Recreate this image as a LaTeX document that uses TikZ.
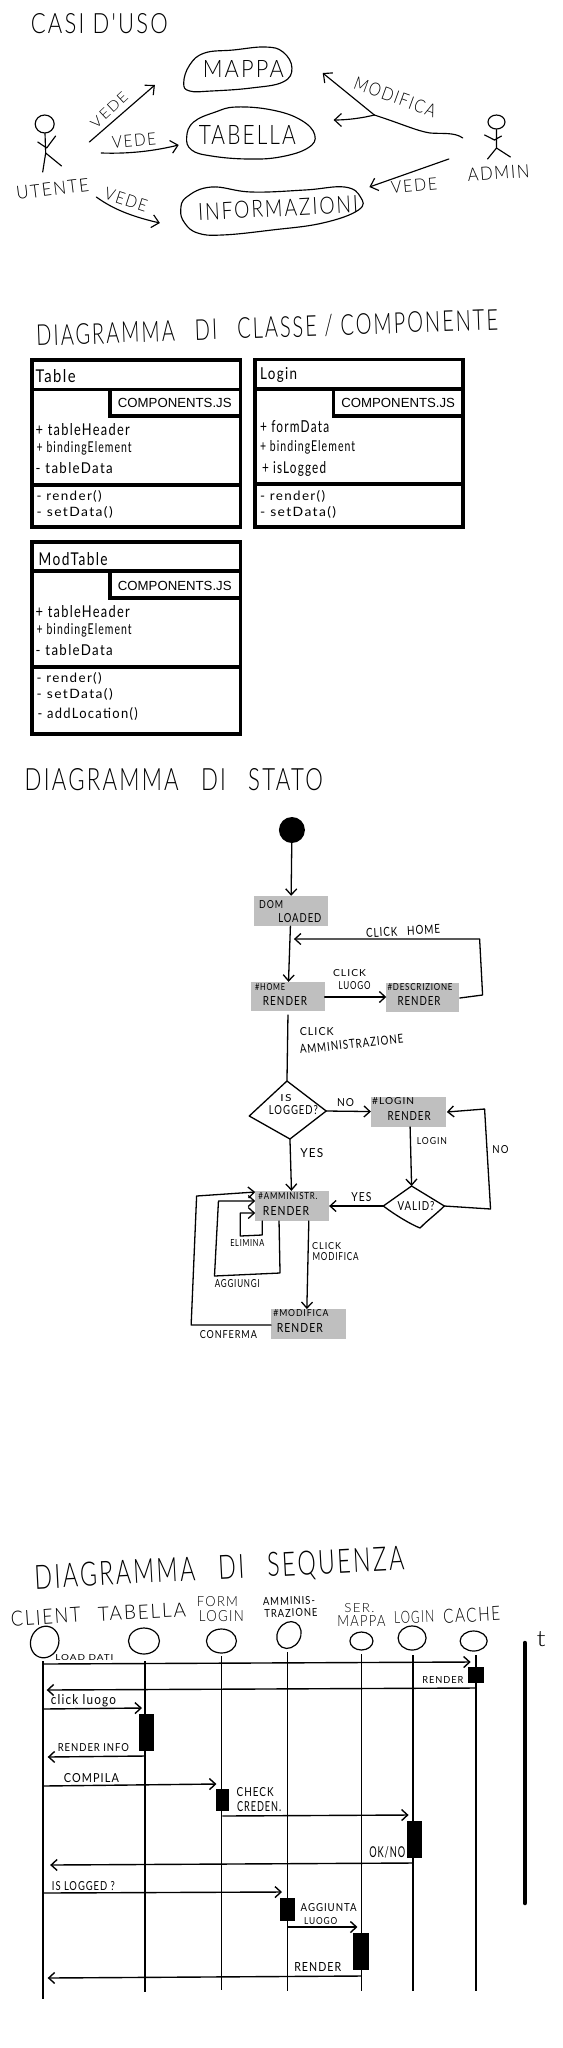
\documentclass[tikz,border=0pt]{standalone}
\usepackage{graphicx}
\usepackage{fontspec}
\setmainfont{Lato}
\newfontfamily\hand[LetterSpace=10]{Lato}
\newfontfamily\handl[LetterSpace=10]{Lato Light}
\newfontfamily\arial{Liberation Sans}
\usetikzlibrary{arrows.meta,shapes.geometric}
\newcommand{\hw}[3]{\resizebox{#1pt}{#2pt}{\hand #3}}
\newcommand{\hwl}[3]{\resizebox{#1pt}{#2pt}{\handl #3}}
\newcommand{\umlbox}[8]{%
  \draw[umlline] (#1,#2) rectangle (#3,#8);
  \draw[umlline] (#1,#4) -- (#3,#4);
  \draw[umlline] (#5,#4) -- (#5,#6) -- (#3,#6);
  \draw[umlline] (#1,#7) -- (#3,#7);
}
\tikzset{
  txt/.style={inner sep=0pt,outer sep=0pt},
  txl/.style={inner sep=0pt,outer sep=0pt,anchor=west},
  pen/.style={line width=1.15pt,line cap=round,line join=round},
  sarrow/.style={pen,-{Straight Barb[length=7pt,width=13pt,line width=1.15pt]}},
  umlline/.style={line width=3.6pt,line join=miter},
  comp/.style={inner sep=0pt,font=\arial\fontsize{13.2}{14}\selectfont},
  gbox/.style={fill=black!25,draw=none,inner sep=0pt},
  stline/.style={line width=1.3pt,line cap=round,line join=round},
  starrow/.style={stline,-{Straight Barb[length=6pt,width=11pt,line width=1.3pt]}},
  life/.style={line width=1.7pt},
  msg/.style={line width=1.4pt,-{Straight Barb[length=6pt,width=11pt,line width=1.4pt]}},
  lead/.style={draw,ellipse,line width=1.2pt,inner sep=0pt},
  exec/.style={fill=black,draw=none,inner sep=0pt},
}
\begin{document}
\begin{tikzpicture}[x=0.993pt,y=-1pt]
\path[use as bounding box,fill=white] (0,0) rectangle (566.96,2048);

% ---------- Casi d'uso ----------
\node[txt] (t1) at (100,24) {\hwl{137}{20}{CASI D'USO}};
\draw[pen] plot[smooth cycle,tension=0.7] coordinates {(185,83)(191,65)(206,53)(235,50)(267,47)(285,52)(294,68)(285,82)(253,88)(213,91)(191,91)};
\node[txt] (mappa) at (245,69) {\hwl{81}{17}{MAPPA}};
\draw[pen] plot[smooth cycle,tension=0.7] coordinates {(188,137)(195,122)(217,112)(238,107)(274,110)(303,120)(317,135)(310,148)(282,157)(249,159)(213,156)(193,150)};
\node[txt] (tabella) at (249,135) {\hwl{97}{19}{TABELLA}};
\draw[pen] plot[smooth cycle,tension=0.7] coordinates {(182,210)(188,197)(213,187)(253,192)(307,190)(347,187)(363,197)(361,210)(325,223)(274,230)(224,235)(199,233)(186,223)};
\node[txt,rotate=3] (info) at (280,208) {\hwl{160}{17}{INFORMAZIONI}};

% utente
\node[lead,line width=1.15pt,minimum width=19pt,minimum height=18pt] (uh) at (45,124) {};
\coordinate (ub) at (46,153);
\coordinate (ua1) at (38,142); \coordinate (ua2) at (47,148); \coordinate (ua3) at (56,136);
\coordinate (ul1) at (43,172); \coordinate (ul2) at (62,166);
\draw[pen] (uh) -- (ub) -- (ul1) (ub) -- (ul2) (ua1) -- (ua2) -- (ua3);
\node[txt,rotate=7] (utente) at (53,189) {\hwl{73}{13}{UTENTE}};
% admin
\node[lead,line width=1.15pt,minimum width=17pt,minimum height=14pt] (ah) at (500,122) {};
\coordinate (ab) at (500,148);
\coordinate (aa1) at (488,135); \coordinate (aa2) at (498,140); \coordinate (aa3) at (505,136);
\coordinate (al1) at (491,159); \coordinate (al2) at (514,157);
\draw[pen] (ah) -- (ab) -- (al1) (ab) -- (al2) (aa1) -- (aa2) -- (aa3);
\node[txt,rotate=4] (admin) at (502,173) {\hwl{62}{13}{ADMIN}};

\coordinate (v1a) at (90,142); \coordinate (v1b) at (156,85);
\draw[sarrow] (v1a) -- (v1b);
\node[txt,rotate=43] (lv1) at (110,110) {\hwl{45}{10}{VEDE}};
\coordinate (v2a) at (102,153); \coordinate (v2b) at (180,145);
\draw[sarrow] (v2a) .. controls (130,154) and (155,151) .. (v2b);
\node[txt,rotate=5] (lv2) at (135,141) {\hwl{44}{12}{VEDE}};
\coordinate (v3a) at (97,197); \coordinate (v3b) at (161,223);
\draw[sarrow] (v3a) .. controls (115,210) and (135,217) .. (v3b);
\node[txt,rotate=-18] (lv3) at (127,200) {\hwl{44}{12}{VEDE}};

\coordinate (ma) at (466,138); \coordinate (mj) at (377,115);
\coordinate (mb) at (325,73); \coordinate (mc) at (336,120);
\draw[pen] (ma) .. controls (458,132) and (445,134) .. (433,133) .. controls (420,131) and (405,124) .. (mj);
\draw[sarrow] (mj) -- (mb);
\draw[sarrow] (mj) .. controls (365,118) and (350,120) .. (mc);
\node[txt,rotate=-20] (lmod) at (398,97) {\hwl{86}{13}{MODIFICA}};
\coordinate (vaa) at (452,159); \coordinate (vab) at (372,187);
\draw[sarrow] (vaa) -- (vab);
\node[txt,rotate=5] (lva) at (417,186) {\hwl{46}{12}{VEDE}};

% ---------- Classi ----------
\node[txt,rotate=2] (t2) at (269,328) {\hwl{462}{21}{DIAGRAMMA\quad DI\quad CLASSE / COMPONENTE}};

\umlbox{32}{360}{242}{389.3}{111}{416}{485}{527}
\node[comp] (c1) at (176,403) {COMPONENTS.JS};
\node[txl] (a0) at (36,376) {\hw{40}{13}{Table}};
\node[txl] (a1) at (36,430) {\hw{94}{12}{+ tableHeader}};
\node[txl] (a2) at (37,448) {\hw{95}{11}{+ bindingElement}};
\node[txl] (a3) at (36,468) {\hw{77}{11}{- tableData}};
\node[txl] (a4) at (37,496) {\hw{65}{10}{- render()}};
\node[txl] (a5) at (37,512) {\hw{76}{10}{- setData()}};

\umlbox{257}{359.5}{466}{389}{336}{415.7}{484}{527}
\node[comp] (c2) at (401,403) {COMPONENTS.JS};
\node[txl] (b0) at (262,375) {\hw{37}{12}{Login}};
\node[txl] (b1) at (262,427) {\hw{69}{12}{+ formData}};
\node[txl] (b2) at (262,447) {\hw{95}{11}{+ bindingElement}};
\node[txl] (b3) at (264,469) {\hw{64}{12}{+ isLogged}};
\node[txl] (b4) at (262,496) {\hw{65}{10}{- render()}};
\node[txl] (b5) at (262,512) {\hw{76}{10}{- setData()}};

\umlbox{32}{542}{242}{571}{111}{597.7}{667}{734}
\node[comp] (c3) at (176,586) {COMPONENTS.JS};
\node[txl] (d0) at (39,559) {\hw{69}{13}{ModTable}};
\node[txl] (d1) at (36,612) {\hw{94}{12}{+ tableHeader}};
\node[txl] (d2) at (37,630) {\hw{95}{11}{+ bindingElement}};
\node[txl] (d3) at (36,650) {\hw{77}{11}{- tableData}};
\node[txl] (d4) at (37,678) {\hw{65}{10}{- render()}};
\node[txl] (d5) at (37,694) {\hw{76}{10}{- setData()}};
\node[txl] (d6) at (38,714) {\hw{100}{11}{- addLocation()}};

% ---------- Stato ----------
\node[txt] (t3) at (175,780) {\hwl{298}{22}{DIAGRAMMA\quad DI\quad STATO}};
\node[circle,fill=black,minimum size=26pt,inner sep=0pt] (start) at (294,830) {};
\node[gbox,minimum width=74pt,minimum height=30pt] (dom) at (293,911) {};
\node[txt] at (273,905) {\hw{24}{8}{DOM}};
\node[txt] at (302,918) {\hw{43}{9}{LOADED}};
\node[gbox,minimum width=74pt,minimum height=29pt] (home) at (290,996.5) {};
\node[txt] at (272,987) {\hw{30}{7}{\#HOME}};
\node[txt] at (287,1001) {\hw{44}{9}{RENDER}};
\node[gbox,minimum width=73pt,minimum height=29pt] (desc) at (425.5,997.5) {};
\node[txt] at (423,987) {\hw{65}{7}{\#DESCRIZIONE}};
\node[txt] at (422,1001) {\hw{43}{9}{RENDER}};
\node[gbox,minimum width=75pt,minimum height=30pt] (logb) at (411.5,1112) {};
\node[txt] at (396,1101) {\hw{42}{7}{\#LOGIN}};
\node[txt] at (412,1116) {\hw{43}{9}{RENDER}};
\node[gbox,minimum width=74pt,minimum height=30pt] (amm) at (294,1206) {};
\node[txt] at (290,1196) {\hw{59}{7}{\#AMMINISTR.}};
\node[txt] at (288,1211) {\hw{46}{9}{RENDER}};
\node[gbox,minimum width=75pt,minimum height=30pt] (modb) at (310.5,1324) {};
\node[txt] at (303,1313) {\hw{55}{7}{\#MODIFICA}};
\node[txt] at (302,1328) {\hw{46}{9}{RENDER}};

\draw[starrow] (start) -- (dom);
\draw[starrow] (dom) -- (home);
\coordinate (h1) at (327,997); \coordinate (h2) at (389,997);
\draw[starrow] (h1) -- (h2);
\node[txt] at (352,973) {\hw{33}{7}{CLICK}};
\node[txt] at (357,986) {\hw{32}{8}{LUOGO}};
\coordinate (l1) at (463,998); \coordinate (l2) at (486,995); \coordinate (l3) at (483,939); \coordinate (l4) at (296,939);
\draw[starrow] (l1) -- (l2) -- (l3) -- (l4);
\node[txt,rotate=3] at (406,931) {\hw{74}{9}{CLICK\quad HOME}};

\coordinate (il-t) at (289,1081); \coordinate (il-r) at (328.5,1111); \coordinate (il-b) at (292,1139); \coordinate (il-l) at (251,1116);
\draw[stline] (il-t) -- (il-r) -- (il-b) -- (il-l) -- cycle;
\node[txt] at (288,1098) {\hw{11}{7}{IS}};
\node[txt] at (295.5,1110) {\hw{49}{9}{LOGGED?}};
\coordinate (hd) at (290,1015);
\draw[stline] (hd) -- (il-t);
\node[txt] at (319,1032) {\hw{34}{8}{CLICK}};
\node[txt,rotate=6] at (354,1044) {\hw{104}{9}{AMMINISTRAZIONE}};
\draw[starrow] (il-r) -- (logb);
\node[txt] at (348,1103) {\hw{17}{8}{NO}};

\coordinate (vl-t) at (414.5,1186); \coordinate (vl-r) at (447.5,1206); \coordinate (vl-b) at (423,1228); \coordinate (vl-l) at (386,1206);
\draw[stline] (vl-t) -- (vl-r) .. controls (437,1216) and (432,1219) .. (vl-b) .. controls (413,1224) and (398,1215) .. (vl-l) -- cycle;
\node[txt] at (419,1206) {\hw{37}{9}{VALID?}};
\coordinate (lb) at (413,1127);
\draw[starrow] (lb) -- (vl-t);
\node[txt] at (435,1141) {\hw{30}{7}{LOGIN}};
\coordinate (n1) at (494,1209); \coordinate (n2) at (488,1109); \coordinate (n3) at (450,1112);
\draw[starrow] (vl-r) -- (n1) -- (n2) -- (n3);
\node[txt] at (504,1150) {\hw{16}{8}{NO}};
\draw[starrow] (vl-l) -- (amm);
\node[txt] at (364,1197) {\hw{20}{9}{YES}};
\draw[starrow] (il-b) -- (amm);
\node[txt] at (314,1153) {\hw{23}{9}{YES}};

\coordinate (e1) at (264,1221); \coordinate (e2) at (264,1235); \coordinate (e3) at (242,1236); \coordinate (e4) at (242,1213); \coordinate (e5) at (257,1213);
\draw[starrow] (e1) -- (e2) -- (e3) -- (e4) -- (e5);
\node[txt] at (249,1243) {\hw{34}{7}{ELIMINA}};
\coordinate (g1) at (281,1221); \coordinate (g2) at (282,1273); \coordinate (g3) at (216,1276); \coordinate (g4) at (220,1201); \coordinate (g5) at (257,1201);
\draw[starrow] (g1) -- (g2) -- (g3) -- (g4) -- (g5);
\node[txt] at (239,1284) {\hw{45}{8}{AGGIUNGI}};
\coordinate (f1) at (273,1325); \coordinate (f2) at (192.5,1325); \coordinate (f3) at (198,1196); \coordinate (f4) at (257,1192);
\draw[starrow] (f1) -- (f2) -- (f3) -- (f4);
\node[txt] at (230,1335) {\hw{57}{8}{CONFERMA}};
\coordinate (k1) at (311,1221); \coordinate (k2) at (309,1309);
\draw[starrow] (k1) -- (k2);
\node[txt] at (329,1246) {\hw{29}{7}{CLICK}};
\node[txt] at (338,1257) {\hw{46}{8}{MODIFICA}};

% ---------- Sequenza ----------
\node[txt,rotate=3] (t4) at (221,1570) {\hwl{370}{24}{DIAGRAMMA\quad DI\quad SEQUENZA}};
\node[txt,rotate=4] at (46,1617) {\hwl{70}{15}{CLIENT}};
\node[txt,rotate=3] at (143,1612) {\hwl{88}{14}{TABELLA}};
\node[txt] at (219,1602) {\hwl{41}{10}{FORM}};
\node[txt] at (223,1616) {\hwl{45}{11}{LOGIN}};
\node[txt,rotate=2] at (291,1601) {\hw{52}{8}{AMMINIS-}};
\node[txt,rotate=2] at (293,1613) {\hw{53}{8}{TRAZIONE}};
\node[txt] at (362,1608) {\hwl{30}{9}{SER.}};
\node[txt] at (364,1621) {\hwl{48}{11}{MAPPA}};
\node[txt,rotate=3] at (417,1617) {\hwl{40}{12}{LOGIN}};
\node[txt,rotate=3] at (475,1615) {\hwl{57}{14}{CACHE}};

\node[lead,minimum width=28pt,minimum height=32pt,rotate=-20] (oc) at (45,1642) {};
\node[lead,minimum width=31pt,minimum height=26pt] (ot) at (145,1641) {};
\node[lead,minimum width=30pt,minimum height=24pt] (of) at (223,1641) {};
\node[lead,minimum width=23pt,minimum height=28pt,rotate=-30] (oa) at (291,1635) {};
\node[lead,minimum width=23pt,minimum height=18pt] (om) at (364,1641) {};
\node[lead,minimum width=28pt,minimum height=24pt] (ol) at (415,1638) {};
\node[lead,minimum width=27pt,minimum height=20pt] (oh) at (477,1641) {};

\coordinate (lc1) at (43.5,1661); \coordinate (lc2) at (43.5,1999);
\coordinate (lt1) at (146,1661); \coordinate (lt2) at (146,1992);
\coordinate (lf1) at (223,1656); \coordinate (lf2) at (223,1990);
\coordinate (la1) at (289.5,1652); \coordinate (la2) at (289.5,1991);
\coordinate (lm1) at (364,1654); \coordinate (lm2) at (364,1991);
\coordinate (ll1) at (416,1655); \coordinate (ll2) at (416,1991);
\coordinate (lh1) at (479,1655); \coordinate (lh2) at (479,1991);
\draw[life] (lc1)--(lc2) (lt1)--(lt2) (lf1)--(lf2) (la1)--(la2) (lm1)--(lm2) (ll1)--(ll2) (lh1)--(lh2);

\coordinate (tb1) at (528.5,1643); \coordinate (tb2) at (528.5,1903);
\draw[line width=4.5pt,line cap=round] (tb1) -- (tb2);
\node[txt] at (545,1639) {\hwl{9}{15}{t}};

\node[exec,minimum width=16pt,minimum height=16pt] (x1) at (479,1675) {};
\node[exec,minimum width=15pt,minimum height=37pt] (x2) at (147.5,1732.5) {};
\node[exec,minimum width=13pt,minimum height=22pt] (x3) at (224.5,1800) {};
\node[exec,minimum width=15pt,minimum height=37pt] (x4) at (417.5,1839.5) {};
\node[exec,minimum width=15pt,minimum height=23pt] (x5) at (289.5,1909.5) {};
\node[exec,minimum width=16pt,minimum height=37pt] (x6) at (364,1951.5) {};

\coordinate (m1a) at (43.5,1664); \coordinate (m1b) at (474,1662);
\draw[msg] (m1a) -- (m1b);
\node[txt] at (85,1658) {\hw{58}{6}{LOAD DATI}};
\node[txt] at (446,1680) {\hw{41}{7}{RENDER}};
\coordinate (m2a) at (479,1688); \coordinate (m2b) at (47,1690);
\draw[msg] (m2a) -- (m2b);
\coordinate (m3a) at (43.5,1709); \coordinate (m3b) at (143,1708);
\draw[msg] (m3a) -- (m3b);
\node[txt] at (84,1701) {\hw{65}{10}{click luogo}};
\node[txt] at (94,1748) {\hw{71}{8}{RENDER INFO}};
\coordinate (m4a) at (146,1756); \coordinate (m4b) at (48,1757);
\draw[msg] (m4a) -- (m4b);
\coordinate (m5a) at (43.5,1786); \coordinate (m5b) at (218,1784);
\draw[msg] (m5a) -- (m5b);
\node[txt] at (92,1778) {\hw{55}{9}{COMPILA}};
\node[txt] at (257,1792) {\hw{37}{9}{CHECK}};
\node[txt] at (261,1807) {\hw{44}{10}{CREDEN.}};
\coordinate (m6a) at (224,1816); \coordinate (m6b) at (411.5,1815);
\draw[msg] (m6a) -- (m6b);
\node[txt] at (390,1852) {\hw{36}{11}{OK/NO}};
\coordinate (m7a) at (416,1863); \coordinate (m7b) at (50.5,1865);
\draw[msg] (m7a) -- (m7b);
\node[txt] at (84,1886) {\hw{63}{9}{IS LOGGED ?}};
\coordinate (m8a) at (43.5,1893); \coordinate (m8b) at (284,1892);
\draw[msg] (m8a) -- (m8b);
\node[txt] at (331,1908) {\hw{56}{8}{AGGIUNTA}};
\node[txt] at (323,1921) {\hw{33}{7}{LUOGO}};
\coordinate (m9a) at (289.5,1927); \coordinate (m9b) at (360,1927);
\draw[msg] (m9a) -- (m9b);
\node[txt] at (320,1967) {\hw{47}{9}{RENDER}};
\coordinate (m10a) at (364,1976); \coordinate (m10b) at (48,1978);
\draw[msg] (m10a) -- (m10b);
\end{tikzpicture}
\end{document}
